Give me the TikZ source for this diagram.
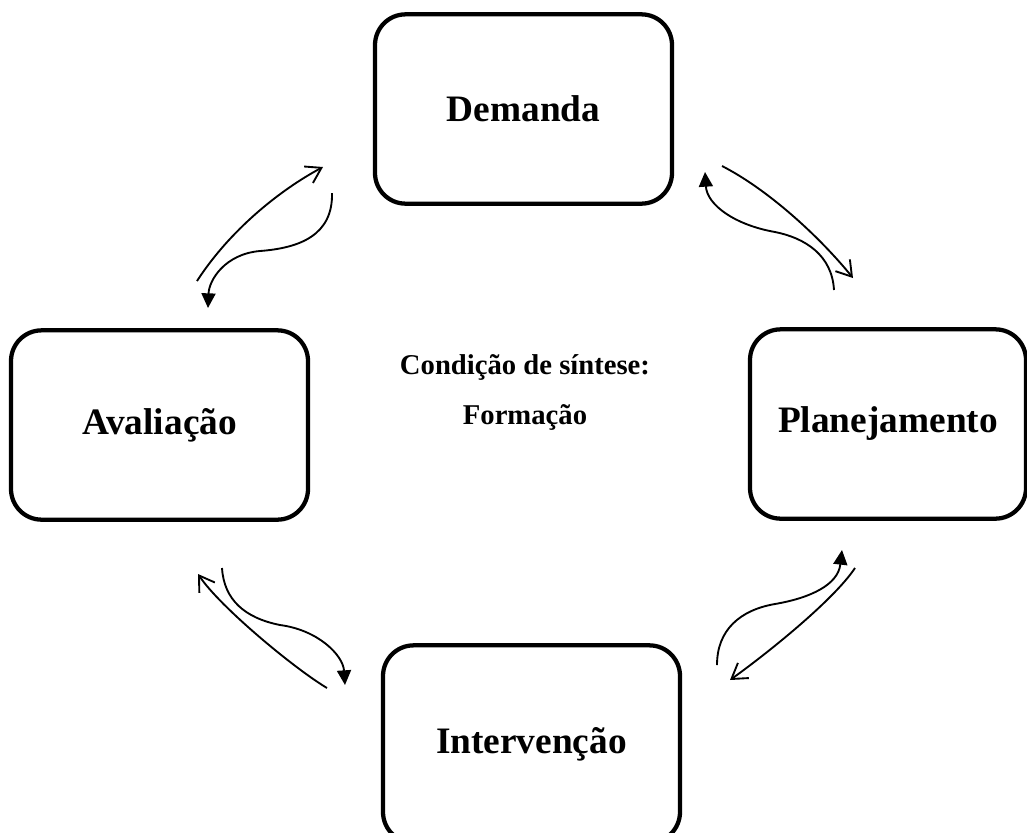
\documentclass[tikz,border=0pt]{standalone}
\usepackage{fontspec}
\setmainfont{Liberation Serif}
\usepackage{tikz}
\usetikzlibrary{arrows.meta}

\begin{document}
\begin{tikzpicture}[x=0.75pt,y=0.75pt,yscale=-1,xscale=1,
  etapa/.style={draw, line width=3.2pt, rounded corners=23pt, minimum width=222.75pt, minimum height=142pt, inner sep=0pt, font=\fontsize{28}{33}\selectfont\bfseries},
  ida/.style={line width=1.4pt, -{Straight Barb[length=11pt,width=14pt]}},
  volta/.style={line width=1.4pt, -{Triangle[length=11pt,width=10.5pt]}}]
\useasboundingbox (0,0) rectangle (1027,832);

%Shape: Rounded Rect [etapas]
\node [etapa] (demanda) at (523.5,109) {Demanda};
\node [etapa] (avaliacao) at (159.5,425) {Avaliação};
\node [etapa, minimum width=207pt] (planejamento) at (888,424) {Planejamento};
\node [etapa, minimum height=148pt] (intervencao) at (531.5,744) {Intervenção};

% Text Node
\node [align=center, font=\fontsize{21.5}{37.5}\selectfont\bfseries] (sintese) at (525,392) {Condição de síntese:\\Formação};

%Shape: Curve [Avaliacao - Demanda]
\coordinate (av-ida) at (197,281); \coordinate (dm-ida) at (323,167);
\coordinate (dm-volta) at (332,193); \coordinate (av-volta) at (208,308);
\draw [ida] (av-ida) .. controls (230,230) and (280,190) .. (dm-ida);
\draw [volta] (dm-volta) .. controls (333,235) and (300,248) .. (260,251) .. controls (225,254) and (209,280) .. (av-volta);

%Shape: Curve [Demanda - Planejamento]
\coordinate (dm-ida2) at (722,166); \coordinate (pl-ida) at (853,278);
\coordinate (pl-volta) at (834,290); \coordinate (dm-volta2) at (705,172);
\draw [ida] (dm-ida2) .. controls (767,189) and (818,235) .. (pl-ida);
\draw [volta] (pl-volta) .. controls (832,255) and (805,238) .. (775,232) .. controls (735,225) and (707,205) .. (dm-volta2);

%Shape: Curve [Planejamento - Intervencao]
\coordinate (pl-ida2) at (855,568); \coordinate (in-ida) at (730,680);
\coordinate (in-volta) at (717,665); \coordinate (pl-volta2) at (842,550);
\draw [ida] (pl-ida2) .. controls (833,601) and (765,655) .. (in-ida);
\draw [volta] (in-volta) .. controls (717,630) and (740,610) .. (775,604) .. controls (810,598) and (838,585) .. (pl-volta2);

%Shape: Curve [Intervencao - Avaliacao]
\coordinate (in-ida2) at (327,688); \coordinate (av-ida2) at (198,574);
\coordinate (av-volta2) at (222,568); \coordinate (in-volta2) at (345,685);
\draw [ida] (in-ida2) .. controls (295,669) and (220,607) .. (av-ida2);
\draw [volta] (av-volta2) .. controls (224,600) and (245,618) .. (280,625) .. controls (318,630) and (343,655) .. (in-volta2);

\end{tikzpicture}
\end{document}
